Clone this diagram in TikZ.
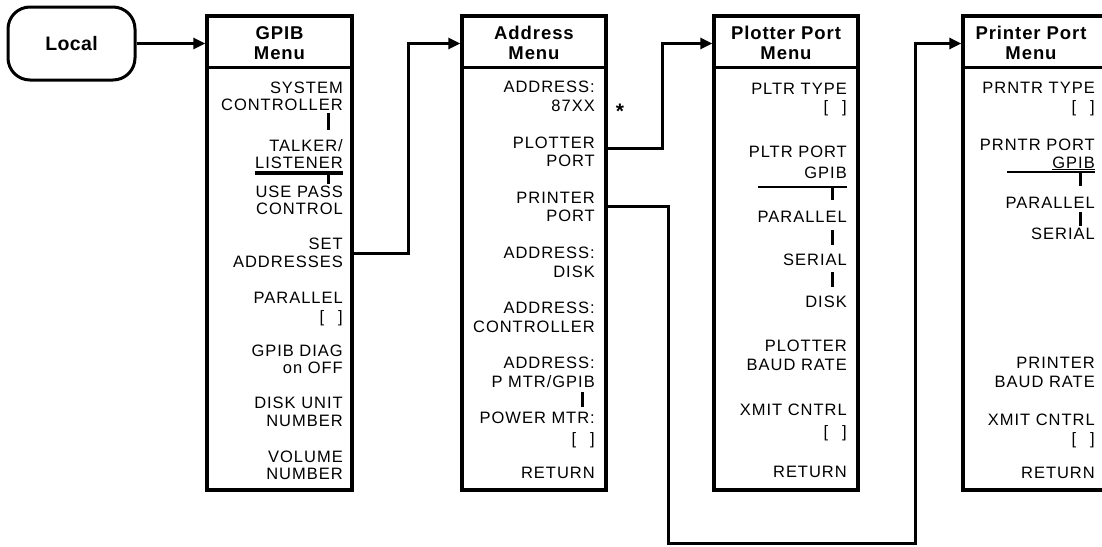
\documentclass[tikz,border=0pt]{standalone}
\usepackage{fontspec}
\setmainfont{Liberation Sans}
\newfontfamily\itemfont[LetterSpace=6]{Liberation Sans}
\newfontfamily\headfont[LetterSpace=5]{Liberation Sans}
\newfontfamily\keyfont[LetterSpace=2]{Liberation Sans}
\usetikzlibrary{arrows.meta}
\tikzset{
  menubox/.style={draw, line width=3.4pt, minimum width=145pt, minimum height=474pt, inner sep=0pt},
  conn/.style={draw, line width=3pt},
  tipped/.style={-{Triangle[length=12pt,width=11pt]}},
  itm/.style={anchor=base east, inner sep=0pt, yshift=-5.9pt, font=\itemfont\fontsize{16.5}{18}\selectfont},
  ttl/.style={anchor=base, inner sep=0pt, yshift=-6.5pt, font=\headfont\bfseries\fontsize{18.5}{20}\selectfont},
  selbar/.style={line width=2.8pt},
  tickmark/.style={line width=3pt},
  thinline/.style={line width=0.9pt},
  divider/.style={line width=3.4pt},
}
\newcommand{\brk}{[\hspace{14pt}]}
\begin{document}
\begin{tikzpicture}[x=1pt,y=-1pt]
\useasboundingbox (0,0) rectangle (1102,546);

% Local key
\node[draw, line width=3pt, rounded corners=22pt, minimum width=127pt, minimum height=73pt, inner sep=0pt,
      font=\keyfont\bfseries\fontsize{19.5}{20}\selectfont] (local) at (71.5,43.5) {Local};

% menu boxes
\node[menubox] (gpib) at (279.5,253) {};
\node[menubox, minimum width=144pt] (addr) at (534,253) {};
\node[menubox, minimum width=144pt] (plot) at (786,253) {};
\node[menubox] (prn) at (1035.5,253) {};

% header dividers
\coordinate (hd) at (0,67.5);
\draw[divider] (gpib.west |- hd) -- (gpib.east |- hd);
\draw[divider] (addr.west |- hd) -- (addr.east |- hd);
\draw[divider] (plot.west |- hd) -- (plot.east |- hd);
\draw[divider] (prn.west |- hd) -- (prn.east |- hd);

% titles
\node[ttl] (gt1) at (279.5,33) {GPIB};
\node[ttl] (gt2) at (279.5,53) {Menu};
\node[ttl] (at1) at (534,33) {Address};
\node[ttl] (at2) at (534,53) {Menu};
\node[ttl] (pt1) at (786,33) {Plotter Port};
\node[ttl] (pt2) at (786,53) {Menu};
\node[ttl] (rt1) at (1031,33) {Printer Port};
\node[ttl] (rt2) at (1031,53) {Menu};

% GPIB menu items
\node[itm] (g1) at (343,88) {SYSTEM};
\node[itm] (g2) at (343,105) {CONTROLLER};
\node[itm] (g3) at (343,146) {TALKER/};
\node[itm] (g4) at (343,163) {LISTENER};
\node[itm] (g5) at (343,192) {USE PASS};
\node[itm] (g6) at (343,209) {CONTROL};
\node[itm] (g7) at (343,244) {SET};
\node[itm] (g8) at (343,262) {ADDRESSES};
\node[itm] (g9) at (343,298) {PARALLEL};
\node[itm] (g10) at (343,317) {\brk};
\node[itm] (g11) at (343,351) {GPIB DIAG};
\node[itm] (g12) at (343,368) {on OFF};
\node[itm] (g13) at (343,403) {DISK UNIT};
\node[itm] (g14) at (343,421) {NUMBER};
\node[itm] (g15) at (343,457) {VOLUME};
\node[itm] (g16) at (343,474) {NUMBER};
\draw[tickmark] (328,113) -- (328,130);
\draw[thinline] (g4.west |- 0,171) -- (343,171);
\draw[selbar] (255,173.5) -- (343,173.5);
\draw[tickmark] (328,173.5) -- (328,184);

% Address menu items
\node[itm] (a1) at (595,87) {ADDRESS:};
\node[itm] (a2) at (595,106) {87XX};
\node[anchor=base, inner sep=0pt, font=\bfseries\fontsize{21}{21}\selectfont] (star) at (620,118) {*};
\node[itm] (a3) at (595,143) {PLOTTER};
\node[itm] (a4) at (595,161) {PORT};
\node[itm] (a5) at (595,198) {PRINTER};
\node[itm] (a6) at (595,216) {PORT};
\node[itm] (a7) at (595,253) {ADDRESS:};
\node[itm] (a8) at (595,272) {DISK};
\node[itm] (a9) at (595,308) {ADDRESS:};
\node[itm] (a10) at (595,327) {CONTROLLER};
\node[itm] (a11) at (595,363) {ADDRESS:};
\node[itm] (a12) at (595,382) {P MTR/GPIB};
\node[itm] (a13) at (595,418) {POWER MTR:};
\node[itm] (a14) at (595,439) {\brk};
\node[itm] (a15) at (595,473) {RETURN};
\draw[tickmark] (582,392) -- (582,407);

% Plotter Port menu items
\node[itm] (p1) at (847,89) {PLTR TYPE};
\node[itm] (p2) at (847,107) {\brk};
\node[itm] (p3) at (847,152) {PLTR PORT};
\node[itm] (p4) at (847,173) {GPIB};
\draw[selbar] (758,187) -- (847,187);
\draw[tickmark] (832,187) -- (832,200);
\node[itm] (p5) at (847,217) {PARALLEL};
\draw[tickmark] (832,230) -- (832,245);
\node[itm] (p6) at (847,260) {SERIAL};
\draw[tickmark] (832,272) -- (832,287);
\node[itm] (p7) at (847,302) {DISK};
\node[itm] (p8) at (847,346) {PLOTTER};
\node[itm] (p9) at (847,365) {BAUD RATE};
\node[itm] (p10) at (847,410) {XMIT CNTRL};
\node[itm] (p11) at (847,432) {\brk};
\node[itm] (p12) at (847,472) {RETURN};

% Printer Port menu items
\node[itm] (r1) at (1095,88) {PRNTR TYPE};
\node[itm] (r2) at (1095,107) {\brk};
\node[itm] (r3) at (1095,145) {PRNTR PORT};
\node[itm] (r4) at (1095,163) {GPIB};
\draw[thinline] (r4.west |- 0,169.5) -- (1095,169.5);
\draw[selbar] (1007,172) -- (1095,172);
\draw[tickmark] (1080,172) -- (1080,186);
\node[itm] (r5) at (1095,203) {PARALLEL};
\draw[tickmark] (1080,212) -- (1080,226);
\node[itm] (r6) at (1095,234) {SERIAL};
\node[itm] (r7) at (1095,363) {PRINTER};
\node[itm] (r8) at (1095,382) {BAUD RATE};
\node[itm] (r9) at (1095,420) {XMIT CNTRL};
\node[itm] (r10) at (1095,439) {\brk};
\node[itm] (r11) at (1095,473) {RETURN};

% connectors
\coordinate (toprow) at (0,43.5);
\coordinate (s1) at (0,253);
\coordinate (s2) at (0,148);
\coordinate (s3) at (0,206);
\coordinate (bot) at (915,543);
\draw[conn,tipped] (local.east) -- (gpib.west |- toprow);
\draw[conn,tipped] (gpib.east |- s1) -- ++(55,0) |- (addr.west |- toprow);
\draw[conn,tipped] (addr.east |- s2) -- ++(55,0) |- (plot.west |- toprow);
\draw[conn,tipped] (addr.east |- s3) -- ++(61,0) |- (bot) |- (prn.west |- toprow);
\end{tikzpicture}
\end{document}
